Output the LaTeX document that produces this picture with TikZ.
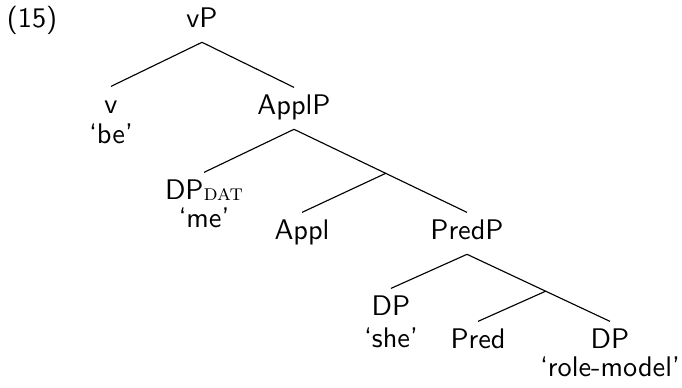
\documentclass[tikz,border=0pt]{standalone}
\usepackage{amsmath}
\usepackage{tikz}
\usetikzlibrary{positioning}

\begin{document}
\begin{tikzpicture}[
    x=0.353pt, y=-0.353pt,
    node distance=10.9pt,
    cat/.style={font=\sffamily, anchor=base, inner xsep=0pt, inner ysep=3.2pt, text height=6pt, text depth=2pt},
    gloss/.style={font=\sffamily, inner sep=0pt, text height=6pt, text depth=2pt},
    branch/.style={line width=0.4pt}
]
    \useasboundingbox (0,0) rectangle (682,387);

    % Example number
    \node[cat] (num) at (32,27) {(15)};

    % Categories
    \node[cat] (vP) at (202,27) {vP};
    \node[cat] (v) at (111,113) {v};
    \node[cat] (ApplP) at (294,114) {ApplP};
    \node[cat] (dat) at (204,199) {DP\raisebox{-0.4pt}{\footnotesize\rmfamily\textsc{dat}}};
    \node[cat] (Appl) at (302,239) {Appl};
    \node[cat] (PredP) at (467,239) {PredP};
    \node[cat] (subj) at (391,315) {DP};
    \node[cat] (Pred) at (478,348) {Pred};
    \node[cat] (obj) at (610,348) {DP};

    % Glosses
    \node[gloss, below of=v] (be) {‘be’};
    \node[gloss, node distance=10pt, below of=dat] (me) {‘me’};
    \node[gloss, node distance=11.3pt, below of=subj] (she) {‘she’};
    \node[gloss, node distance=9.9pt, below of=obj] (role) {‘role-model’};

    % Branches
    \draw[branch] (vP.south) -- (v.north);
    \draw[branch] (vP.south) -- (ApplP.north);
    \draw[branch] (ApplP.south) -- (dat.north);
    \draw[branch] (ApplP.south) -- coordinate[pos=0.53] (applbar) (PredP.north);
    \draw[branch] (applbar) -- (Appl.north);
    \draw[branch] (PredP.south) -- (subj.north);
    \draw[branch] (PredP.south) -- coordinate[pos=0.55] (predbar) (obj.north);
    \draw[branch] (predbar) -- (Pred.north);
\end{tikzpicture}
\end{document}
